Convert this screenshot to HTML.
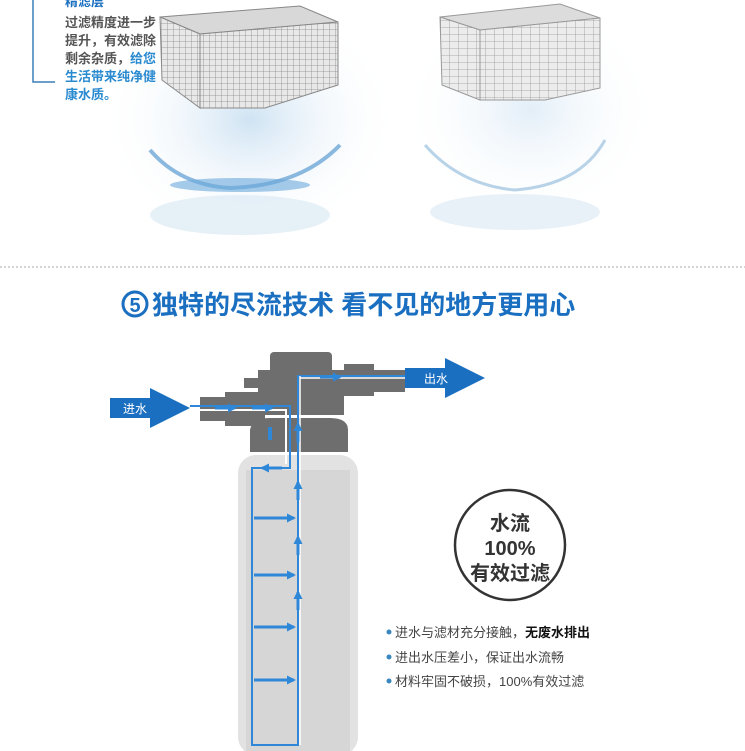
<!DOCTYPE html>
<html><head><meta charset="utf-8"><style>
body{margin:0;background:#fff;}
svg{display:block;font-family:"Liberation Sans","Noto Sans CJK SC",sans-serif;}
</style></head><body>
<svg width="745" height="751" viewBox="0 0 745 751" xmlns="http://www.w3.org/2000/svg">
<defs>
<pattern id="g" width="6" height="6" patternUnits="userSpaceOnUse"><rect width="6" height="6" fill="#e8e8e8"/><path d="M6 0V6M0 6H6" stroke="#888" stroke-width="0.8"/></pattern>
<pattern id="g2" width="9" height="7" patternUnits="userSpaceOnUse"><rect width="9" height="7" fill="#ececec"/><path d="M9 0V7M0 7H9" stroke="#999" stroke-width="0.8"/></pattern>
<radialGradient id="sp" cx="50%" cy="50%" r="50%"><stop offset="0" stop-color="#cfe3f3"/><stop offset="1" stop-color="#fff" stop-opacity="0"/></radialGradient>
<marker id="ah" markerUnits="userSpaceOnUse" markerWidth="9" markerHeight="9" refX="7" refY="4.5" orient="auto"><path d="M0,0L9,4.5L0,9z" fill="#2f87d8"/></marker>
</defs>
<ellipse cx="250" cy="120" rx="150" ry="120" fill="url(#sp)"/>
<ellipse cx="530" cy="110" rx="130" ry="110" fill="url(#sp)" opacity="0.6"/>
<path d="M33 0V82H55" stroke="#3b7fb8" stroke-width="1.5" fill="none"/>
<text x="65" y="6" font-size="13" font-weight="bold" fill="#1a6fc0">精滤层</text>
<g font-size="13" font-weight="bold" fill="#555">
<text x="65" y="27">过滤精度进一步</text>
<text x="65" y="45">提升，有效滤除</text>
<text x="65" y="63">剩余杂质，<tspan fill="#2a8ad0">给您</tspan></text>
<text x="65" y="81" fill="#2a8ad0">生活带来纯净健</text>
<text x="65" y="99" fill="#2a8ad0">康水质。</text>
</g>
<polygon points="160,17 300,6 338,22 200,34" fill="#d8d8d8" stroke="#888"/>
<polygon points="160,17 200,34 200,108 162,80" fill="url(#g)" stroke="#888"/>
<polygon points="200,34 338,22 338,85 265,108 200,108" fill="url(#g)" stroke="#888"/>
<polygon points="440,17 560,4 600,18 480,30" fill="#dcdcdc" stroke="#999"/>
<polygon points="440,17 480,30 480,100 442,85" fill="url(#g2)" stroke="#999"/>
<polygon points="480,30 600,18 600,88 545,100 480,100" fill="url(#g2)" stroke="#999"/>
<path d="M150 150 Q180 185 230 188 Q300 186 340 145" stroke="#5b9bd0" stroke-width="4" fill="none" opacity="0.7"/>
<ellipse cx="240" cy="185" rx="70" ry="7" fill="#6aa9dc" opacity="0.6"/>
<ellipse cx="240" cy="215" rx="90" ry="20" fill="#dbe9f4" opacity="0.7"/>
<path d="M425 145 Q460 185 515 190 Q580 185 605 140" stroke="#b8d3e8" stroke-width="3" fill="none"/>
<ellipse cx="515" cy="212" rx="85" ry="18" fill="#e4eef6" opacity="0.8"/>
<line x1="0" y1="267" x2="745" y2="267" stroke="#aaa" stroke-width="1" stroke-dasharray="2,2"/>
<circle cx="135" cy="304" r="12" fill="none" stroke="#1a6fc0" stroke-width="3"/>
<text x="135" y="312" font-size="20" font-weight="bold" fill="#1a6fc0" text-anchor="middle">5</text>
<text x="152" y="314" font-size="26" font-weight="bold" fill="#1a6fc0">独特的尽流技术 看不见的地方更用心</text>
<rect x="238" y="455" width="120" height="300" rx="18" fill="#e2e2e2"/>
<rect x="246" y="470" width="104" height="285" fill="#d6d6d6"/>
<g fill="#6e6e6e">
<rect x="270" y="352" width="62" height="22" rx="4"/>
<rect x="258" y="370" width="86" height="45"/>
<rect x="244" y="378" width="20" height="10"/>
<rect x="200" y="397" width="62" height="24"/>
<rect x="225" y="392" width="40" height="34"/>
<rect x="344" y="370" width="61" height="22"/>
<rect x="344" y="364" width="30" height="32"/>
<path d="M250 452 V430 Q252 418 270 418 H330 Q348 418 348 430 V452Z"/>
</g>
<polygon points="110,398 150,398 150,388 190,408 150,428 150,418 110,418" fill="#1a6fc0"/>
<text x="123" y="413" font-size="12" fill="#fff">进水</text>
<polygon points="405,368 445,368 445,358 485,378 445,398 445,388 405,388" fill="#1a6fc0"/>
<text x="424" y="383" font-size="12" fill="#fff">出水</text>
<g stroke="#2f87d8" stroke-width="2" fill="none">
<path d="M190 406 H290 V468 H252 V745 H298 V376 H405"/>
<path d="M190 410 H286 V464" stroke="#fff" stroke-width="2"/>
<path d="M300 378 H405" stroke="#fff" stroke-width="1.5"/>
<path d="M300 376 V745" stroke="#fff" stroke-width="1.5"/>
</g>
<g stroke="#2f87d8" stroke-width="3" marker-end="url(#ah)">
<line x1="254" y1="518" x2="294" y2="518"/>
<line x1="254" y1="575" x2="294" y2="575"/>
<line x1="254" y1="627" x2="294" y2="627"/>
<line x1="254" y1="680" x2="294" y2="680"/>
<line x1="298" y1="500" x2="298" y2="482"/>
<line x1="298" y1="555" x2="298" y2="537"/>
<line x1="298" y1="610" x2="298" y2="592"/>
<line x1="298" y1="442" x2="298" y2="424"/>
<line x1="282" y1="468" x2="262" y2="468"/>
<line x1="215" y1="408" x2="235" y2="408"/>
<line x1="252" y1="408" x2="272" y2="408"/>
<line x1="320" y1="377" x2="340" y2="377"/>
</g>
<line x1="270" y1="427" x2="270" y2="440" stroke="#2f87d8" stroke-width="4"/>
<circle cx="510" cy="545" r="55" fill="#fff" stroke="#333" stroke-width="2.5"/>
<g font-size="20" font-weight="bold" fill="#333" text-anchor="middle">
<text x="510" y="530">水流</text>
<text x="510" y="555">100%</text>
<text x="510" y="580">有效过滤</text>
</g>
<g font-size="13" fill="#444">
<circle cx="389" cy="632" r="2.5" fill="#3a87c0"/>
<text x="395" y="637">进水与滤材充分接触，<tspan font-weight="bold" fill="#111">无废水排出</tspan></text>
<circle cx="389" cy="657" r="2.5" fill="#3a87c0"/>
<text x="395" y="662">进出水压差小，保证出水流畅</text>
<circle cx="389" cy="681" r="2.5" fill="#3a87c0"/>
<text x="395" y="686">材料牢固不破损，100%有效过滤</text>
</g>
</svg>
</body></html>
